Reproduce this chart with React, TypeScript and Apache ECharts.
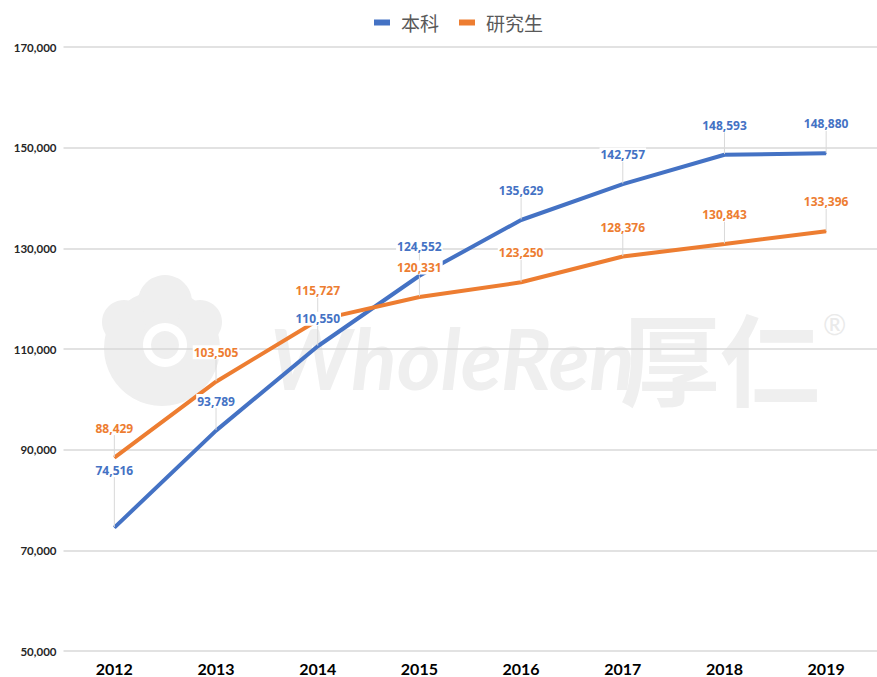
import React, { useEffect, useRef } from "react";
import * as echarts from "echarts";

const years = ["2012", "2013", "2014", "2015", "2016", "2017", "2018", "2019"];
const undergrad = [74516, 93789, 110550, 124552, 135629, 142757, 148593, 148880];
const graduate = [88429, 103505, 115727, 120331, 123250, 128376, 130843, 133396];
const seriesNames = ["本科", "研究生"];

const BLUE = "#4472C4";
const ORANGE = "#ED7D31";
const WM = "#efefef";

export default function App() {
  const ref = useRef<HTMLDivElement>(null);
  useEffect(() => {
    if (!ref.current) return;
    const chart = echarts.init(ref.current, null, { renderer: "svg" });
    const mkLabel = (color: string) => ({
      show: true,
      position: "top",
      distance: 4,
      color,
      fontFamily: "Open Sans",
      fontWeight: "bold",
      fontSize: 12,
      lineHeight: 14,
      backgroundColor: "#ffffff",
      padding: [0, 1, 0, 1],
      formatter: (p: any) => Number(p.value).toLocaleString("en-US"),
    });
    const mkSeries = (name: string, data: number[], color: string, sIdx: number) => ({
      name,
      type: "line",
      data,
      symbol: "circle",
      symbolSize: 1,
      itemStyle: { color },
      lineStyle: { color, width: 4 },
      label: mkLabel(color),
      labelLine: { show: true, lineStyle: { color: "#d9d9d9", width: 1 } },
      labelLayout: (params: any) => ({
        dy: sIdx === 0 && params.dataIndex === 0 ? -46 : sIdx === 0 && params.dataIndex === 2 ? -16 : -18,
      }),
      z: 2,
    });
    chart.setOption({
      animation: false,
      backgroundColor: "#ffffff",
      legend: {
        top: 8,
        left: 369,
        itemWidth: 16,
        itemHeight: 6,
        itemGap: 20,
        icon: "rect",
        textStyle: {
          fontFamily: "Noto Sans CJK SC",
          fontSize: 19,
          color: "#595959",
          padding: [0, 0, 0, 6],
        },
        data: seriesNames,
      },
      grid: { left: 63.5, right: -11.5, top: 47, bottom: 26 },
      xAxis: {
        type: "category",
        data: years,
        boundaryGap: true,
        axisLine: { show: false },
        axisTick: { show: false },
        axisLabel: {
          margin: 9,
          fontFamily: "Lato",
          fontWeight: "bold",
          fontSize: 16,
          color: "#000000",
        },
      },
      yAxis: {
        type: "value",
        min: 50000,
        max: 170000,
        interval: 20000,
        axisLine: { show: false },
        axisTick: { show: false },
        splitLine: { lineStyle: { color: "#d9d9d9", width: 1.5 } },
        axisLabel: {
          margin: 7,
          fontFamily: "Lato",
          fontWeight: "bold",
          fontSize: 11.5,
          color: "#262626",
          formatter: (v: number) => v.toLocaleString("en-US"),
        },
      },
      graphic: [
        {
          type: "group",
          z: -100,
          silent: true,
          children: [
            { type: "circle", shape: { cx: 162, cy: 348, r: 58 }, style: { fill: WM }, z: -100 },
            { type: "circle", shape: { cx: 165, cy: 302, r: 27 }, style: { fill: WM }, z: -100 },
            { type: "circle", shape: { cx: 124, cy: 322, r: 22 }, style: { fill: WM }, z: -100 },
            { type: "circle", shape: { cx: 200, cy: 322, r: 22 }, style: { fill: WM }, z: -100 },
            { type: "ring", shape: { cx: 165, cy: 345, r: 22, r0: 14 }, style: { fill: "#ffffff" }, z: -99 },
            {
              type: "text",
              x: 270,
              y: 357,
              z: -100,
              style: {
                text: "WholeRen",
                fontFamily: "Lato",
                fontStyle: "italic",
                fontWeight: "bold",
                fontSize: 84,
                fill: WM,
                textVerticalAlign: "middle",
              },
            },
            {
              type: "text",
              x: 620,
              y: 355,
              z: -100,
              style: {
                text: "厚仁",
                fontFamily: "Noto Sans CJK SC",
                fontWeight: "bold",
                fontSize: 100,
                fill: WM,
                textVerticalAlign: "middle",
              },
            },
            {
              type: "text",
              x: 823,
              y: 310,
              z: -100,
              style: { text: "®", fontSize: 28, fill: "#eaeaea", fontFamily: "Lato" },
            },
          ],
        },
      ],
      series: [
        mkSeries(seriesNames[0], undergrad, BLUE, 0),
        mkSeries(seriesNames[1], graduate, ORANGE, 1),
      ],
    });
    return () => chart.dispose();
  }, []);
  return <div ref={ref} style={{ width: 877, height: 677, position: "absolute", left: 0, top: 0 }} />;
}
